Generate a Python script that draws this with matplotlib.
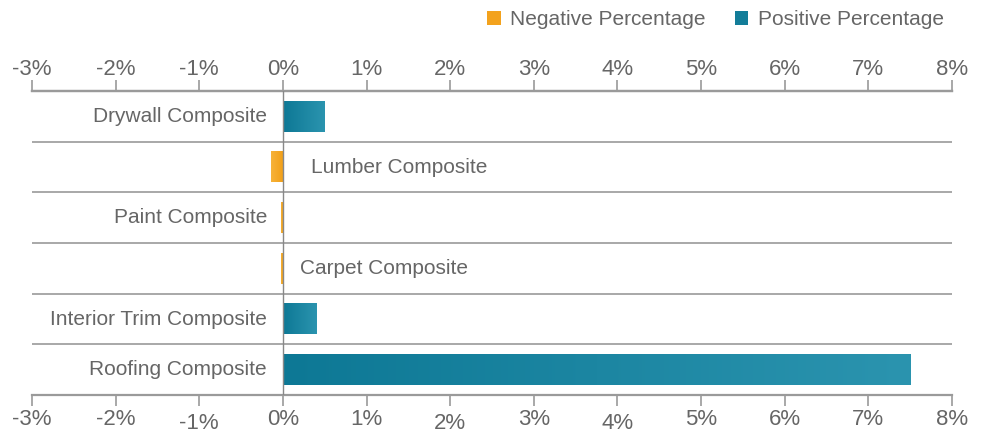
import numpy as np
import matplotlib.pyplot as plt
from matplotlib.colors import LinearSegmentedColormap
from matplotlib.patches import Patch

# data
categories = ['Drywall Composite', 'Lumber Composite', 'Paint Composite',
              'Carpet Composite', 'Interior Trim Composite', 'Roofing Composite']
values = [0.5, -0.14, -0.02, -0.02, 0.4, 7.5]
label_side = ['left', 'right', 'left', 'right', 'left', 'left']
label_gap = [0.19, 0.33, 0.19, 0.2, 0.19, 0.19]
tick_vals = list(range(-3, 9))
tick_labels = ['%d%%' % t for t in tick_vals]

plt.rcParams['font.family'] = ['Liberation Sans', 'DejaVu Sans']
grey = '#666666'
linec = '#9a9a9a'

teal = LinearSegmentedColormap.from_list('teal', ['#0d7895', '#1c86a2', '#2b94af'])
orange = LinearSegmentedColormap.from_list('orange', ['#f2a018', '#f7b33a'])

fig = plt.figure(figsize=(9.86, 4.36), dpi=100)
ax = fig.add_axes([32/986, 41/436, 920/986, 304/436])

h = 0.6
grad = np.linspace(0, 1, 256).reshape(1, -1)
for i, v in enumerate(values):
    x0, x1 = min(0, v), max(0, v)
    if v >= 0:
        cm = teal
        g = grad
    else:
        cm = orange
        g = grad[:, ::-1]
    ax.imshow(g, extent=[x0, x1, i + h/2, i - h/2], cmap=cm, aspect='auto',
              interpolation='bicubic', zorder=2)
    if label_side[i] == 'left':
        ax.text(-label_gap[i], i, categories[i], ha='right', va='center',
                fontsize=15, color=grey)
    else:
        ax.text(label_gap[i], i, categories[i], ha='left', va='center',
                fontsize=15, color=grey)

# row separators and zero line
for y in np.arange(0.5, len(categories) - 0.5, 1):
    ax.axhline(y, color=linec, lw=1.2, zorder=1)
ax.axvline(0, color='#888888', lw=1, zorder=3)

ax.set_xlim(-3, 8)
ax.set_ylim(len(categories) - 0.5, -0.5)
ax.set_yticks([])
ax.set_xticks(tick_vals)
ax.set_xticklabels(tick_labels)
ax.tick_params(axis='x', direction='out', length=8, width=1.2,
               color=linec, labelcolor=grey, labelsize=16, pad=2)
# the bottom labels in the picture are slightly staggered
for t, p in zip(ax.xaxis.get_major_ticks(), [2, 2, 5, 2, 2, 5, 2, 5, 2, 2, 2, 2]):
    t.set_pad(p)

top = ax.secondary_xaxis('top')
top.set_xticks(tick_vals)
top.set_xticklabels(tick_labels)
top.tick_params(axis='x', direction='out', length=8, width=1.2,
                color=linec, labelcolor=grey, labelsize=16, pad=0)
top.spines['top'].set_color(linec)
top.spines['top'].set_linewidth(1.6)

for s in ['left', 'right']:
    ax.spines[s].set_visible(False)
for s in ['top', 'bottom']:
    ax.spines[s].set_color(linec)
    ax.spines[s].set_linewidth(1.6)

handles = [Patch(facecolor='#f3a21d', label='Negative Percentage'),
           Patch(facecolor='#137d99', label='Positive Percentage')]
fig.legend(handles=handles, loc='upper right', bbox_to_anchor=(0.976, 1.02),
           ncol=2, frameon=False, fontsize=15, labelcolor=grey,
           handlelength=0.65, handleheight=0.65, handletextpad=0.45, columnspacing=1.4)

fig.savefig('out.png', dpi=100)
